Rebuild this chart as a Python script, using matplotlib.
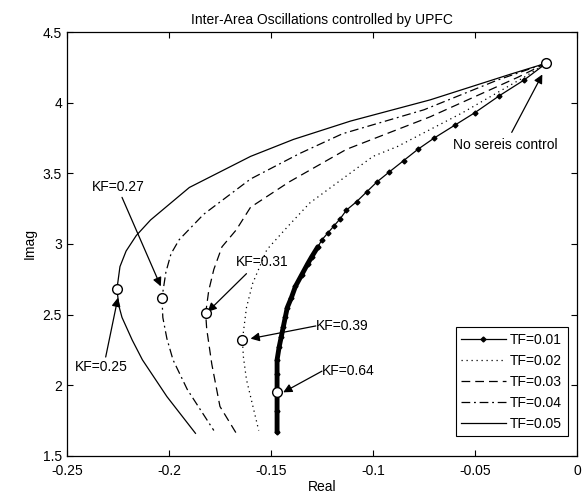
import matplotlib
matplotlib.use("Agg")
import matplotlib.pyplot as plt

plt.rcParams['font.family'] = ['Liberation Sans', 'DejaVu Sans']

# --- data ---
tf01_x = [-0.015, -0.026, -0.038, -0.050, -0.060, -0.070, -0.078, -0.085, -0.092, -0.098,
          -0.103, -0.108, -0.113, -0.116, -0.119, -0.122, -0.125, -0.127, -0.130, -0.132,
          -0.135, -0.138, -0.140, -0.142, -0.143, -0.144, -0.145, -0.146, -0.147, -0.147,
          -0.147, -0.147, -0.147]
tf01_y = [4.28, 4.16, 4.05, 3.93, 3.84, 3.75, 3.67, 3.59, 3.51, 3.44,
          3.37, 3.30, 3.24, 3.18, 3.13, 3.08, 3.03, 2.98, 2.91, 2.86,
          2.78, 2.70, 2.62, 2.55, 2.48, 2.41, 2.34, 2.27, 2.18, 2.08,
          1.97, 1.82, 1.67]

tf02_x = [-0.015, -0.026, -0.056, -0.088, -0.100, -0.116, -0.131, -0.142, -0.152, -0.159,
          -0.162, -0.164, -0.1635, -0.162, -0.156]
tf02_y = [4.28, 4.18, 3.93, 3.69, 3.62, 3.45, 3.29, 3.12, 2.96, 2.72,
          2.55, 2.32, 2.20, 2.04, 1.68]

tf03_x = [-0.015, -0.029, -0.072, -0.113, -0.141, -0.160, -0.167, -0.174, -0.178, -0.1805,
          -0.182, -0.1815, -0.179, -0.175, -0.167]
tf03_y = [4.28, 4.18, 3.90, 3.67, 3.44, 3.26, 3.10, 2.98, 2.82, 2.67,
          2.51, 2.40, 2.15, 1.85, 1.66]

tf04_x = [-0.015, -0.039, -0.075, -0.115, -0.136, -0.160, -0.183, -0.195, -0.199, -0.2015,
          -0.2034, -0.203, -0.201, -0.198, -0.191, -0.178]
tf04_y = [4.28, 4.16, 3.95, 3.78, 3.64, 3.46, 3.21, 3.03, 2.93, 2.80,
          2.62, 2.48, 2.33, 2.18, 1.97, 1.68]

tf05_x = [-0.015, -0.033, -0.072, -0.111, -0.139, -0.160, -0.190, -0.209, -0.216, -0.221,
          -0.224, -0.2255, -0.2245, -0.223, -0.218, -0.213, -0.201, -0.187]
tf05_y = [4.28, 4.20, 4.02, 3.87, 3.74, 3.62, 3.40, 3.17, 3.06, 2.95,
          2.84, 2.68, 2.56, 2.48, 2.32, 2.18, 1.92, 1.66]

legend_labels = ['TF=0.01', 'TF=0.02', 'TF=0.03', 'TF=0.04', 'TF=0.05']

circle_x = [-0.015, -0.2255, -0.2034, -0.182, -0.164, -0.147]
circle_y = [4.28, 2.68, 2.62, 2.51, 2.32, 1.95]

ann_labels = ['No sereis control', 'KF=0.27', 'KF=0.31', 'KF=0.39', 'KF=0.64', 'KF=0.25']
ann_text_x = [-0.061, -0.238, -0.167, -0.128, -0.125, -0.246]
ann_text_y = [3.70, 3.40, 2.87, 2.42, 2.10, 2.13]
ann_tail_x = [-0.032, -0.223, -0.162, -0.128, -0.125, -0.231]
ann_tail_y = [3.79, 3.33, 2.79, 2.42, 2.10, 2.20]
ann_head_x = [-0.017, -0.204, -0.181, -0.160, -0.144, -0.225]
ann_head_y = [4.20, 2.70, 2.52, 2.33, 1.95, 2.62]

title = 'Inter-Area Oscillations controlled by UPFC'

# --- figure ---
fig = plt.figure(figsize=(5.87, 5.01), dpi=100)
ax = fig.add_axes([0.114, 0.090, 0.869, 0.846])

lw = 0.9
l1, = ax.plot(tf01_x, tf01_y, '-', color='black', lw=lw, marker='D', markersize=2.5)
# dense marker region (bottom part appears as a thick line)
lower = [i for i, y in enumerate(tf01_y) if y <= 3.0]
ax.plot([tf01_x[i] for i in lower], [tf01_y[i] for i in lower], '-', color='black',
        lw=3.5, solid_capstyle='round')
l2, = ax.plot(tf02_x, tf02_y, color='black', lw=lw, linestyle=(0, (1, 3)))
l3, = ax.plot(tf03_x, tf03_y, color='black', lw=lw, linestyle=(0, (7, 4)))
l4, = ax.plot(tf04_x, tf04_y, color='black', lw=lw, linestyle=(0, (7, 3, 1.5, 3)))
l5, = ax.plot(tf05_x, tf05_y, color='black', lw=lw, linestyle='-')

ax.plot(circle_x, circle_y, linestyle='none', marker='o', markersize=7,
        markerfacecolor='white', markeredgecolor='black', markeredgewidth=1.0, zorder=5)

for lab, tx, ty, sx, sy, hx, hy in zip(ann_labels, ann_text_x, ann_text_y,
                                       ann_tail_x, ann_tail_y, ann_head_x, ann_head_y):
    ax.text(tx, ty, lab, fontsize=10, ha='left', va='center')
    ax.annotate('', xy=(hx, hy), xytext=(sx, sy),
                arrowprops=dict(arrowstyle='-|>', color='black', lw=0.9,
                                mutation_scale=13, shrinkA=0, shrinkB=0))

ax.set_xlim(-0.25, 0)
ax.set_ylim(1.5, 4.5)
ax.set_xticks([-0.25, -0.2, -0.15, -0.1, -0.05, 0])
ax.set_xticklabels(['-0.25', '-0.2', '-0.15', '-0.1', '-0.05', '0'])
ax.set_yticks([1.5, 2, 2.5, 3, 3.5, 4, 4.5])
ax.set_yticklabels(['1.5', '2', '2.5', '3', '3.5', '4', '4.5'])
ax.tick_params(direction='in', top=True, right=True, length=4, width=0.8, labelsize=10)
ax.tick_params(axis='x', pad=6)
for s in ax.spines.values():
    s.set_linewidth(0.9)

ax.set_xlabel('Real', fontsize=10, labelpad=1)
ax.set_ylabel('Imag', fontsize=10, labelpad=4)
ax.set_title(title, fontsize=10, pad=6)

leg = ax.legend([l1, l2, l3, l4, l5], legend_labels, loc='lower right', fontsize=10,
                frameon=True, fancybox=False, edgecolor='black', framealpha=1,
                handlelength=3.2, borderpad=0.4, labelspacing=0.5,
                bbox_to_anchor=(0.995, 0.03), handletextpad=0.3)
leg.get_frame().set_linewidth(0.8)

fig.savefig('out.png', dpi=100)
